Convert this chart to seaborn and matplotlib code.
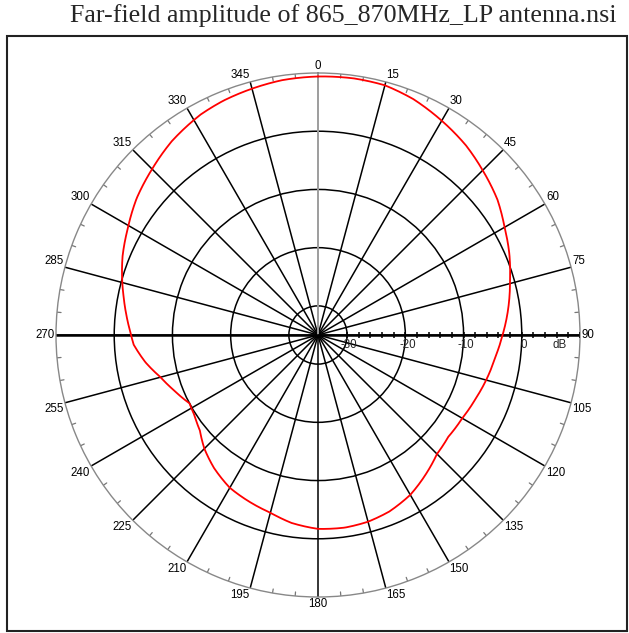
import numpy as np
import pandas as pd
import matplotlib
matplotlib.use("Agg")
import matplotlib.pyplot as plt
import matplotlib.transforms as mtrans
import seaborn as sns
from matplotlib.patches import Rectangle

# far-field amplitude (deg, dB)
angle_deg = [0, 8, 15, 22, 30, 38, 45, 53, 60, 67, 74, 82, 90, 97, 105, 112, 120, 128, 135,
             142, 150, 158, 165, 172, 180, 188, 195, 202, 210, 218, 225, 231, 237, 242, 249,
             255, 261, 267, 271, 276, 281, 285, 292, 299, 307, 315, 323, 332, 338, 345, 352, 360]
gain_db = [9.4, 9.5, 9.4, 8.7, 7.5, 6.3, 5.0, 3.6, 2.0, 0.7, -0.7, -2.0, -3.3, -4.3, -5.1,
           -5.8, -6.4, -6.6, -6.1, -4.8, -3.3, -2.3, -1.8, -1.6, -1.7, -2.4, -3.4, -4.0,
           -4.7, -6.0, -7.4, -8.9, -9.7, -10.0, -8.5, -7.0, -5.0, -3.3, -2.75, -1.9, -1.0,
           -0.2, 1.2, 2.4, 4.0, 5.3, 6.7, 7.9, 8.4, 8.8, 9.2, 9.4]

ring_db = [-30, -20, -10, 0]
ring_labels = ["-30", "-20", "-10", "0"]
spoke_deg = list(range(0, 360, 15))
r_min, r_max = -35, 10

title = "Far-field amplitude of 865_870MHz_LP antenna.nsi"

sns.set_theme(style="white")
plt.rcParams["font.family"] = ["Liberation Sans", "DejaVu Sans"]

df = pd.DataFrame({"theta": np.deg2rad(angle_deg), "gain": gain_db})

fig = plt.figure(figsize=(6.29, 6.33), dpi=100)
fig.patch.set_facecolor("white")

# frame around the plot
fig.patches.append(Rectangle((7 / 629, 1 - 631 / 633), 620 / 629, 595 / 633,
                             transform=fig.transFigure, fill=False,
                             edgecolor="#222222", linewidth=1.5))
fig.text(343 / 629, 1 - 16 / 633, title, ha="center", va="center",
         fontsize=18.7, family=["Liberation Serif", "DejaVu Serif"])

ax = fig.add_axes([56 / 629, 1 - 597 / 633, 524 / 629, 524 / 633], projection="polar")
ax.set_theta_zero_location("N")
ax.set_theta_direction(-1)
ax.set_rlim(r_min, r_max)
ax.set_facecolor("white")

ax.set_thetagrids(spoke_deg, labels=[])
ax.set_rgrids(ring_db, labels=[])
ax.grid(True, color="black", linewidth=1.1)
ax.spines["polar"].set_color("#888888")
ax.spines["polar"].set_linewidth(1.0)
ax.tick_params(axis="both", length=0)

# top half of the 0-180 axis is gray, horizontal axis thicker
ax.plot([0, 0], [r_min, r_max], color="#aaaaaa", lw=1.3, zorder=2)
ax.plot([np.pi / 2, np.pi / 2], [r_min, r_max], color="black", lw=1.8, zorder=2)
ax.plot([3 * np.pi / 2, 3 * np.pi / 2], [r_min, r_max], color="black", lw=1.8, zorder=2)

# minor ticks on the outer circle every 5 deg
for a in range(0, 360, 5):
    if a % 15:
        t = np.deg2rad(a)
        ax.plot([t, t], [r_max, r_max - 0.7], color="#777777", lw=0.9, zorder=2)

# ticks along the dB axis every 2 dB
db_ticks = np.arange(-30, 11, 2)
ax.plot(np.full(len(db_ticks), np.pi / 2), db_ticks, ls="none", marker="|",
        ms=4.5, mew=1.1, color="black", zorder=3)

# angle labels
for a in spoke_deg:
    t = np.deg2rad(a)
    if a == 0:
        ha, va = "center", "bottom"
    elif a == 180:
        ha, va = "center", "top"
    elif a == 90:
        ha, va = "left", "center"
    elif a == 270:
        ha, va = "right", "center"
    else:
        ha = "left" if a < 180 else "right"
        va = "bottom" if (a < 90 or a > 270) else "top"
    ax.text(t, r_max + 0.2, str(a), ha=ha, va=va, fontsize=8.3, color="black")

# radial labels
off = mtrans.ScaledTranslation(2 / 100, -4 / 100, fig.dpi_scale_trans)
for v, s in zip(ring_db, ring_labels):
    ax.text(np.pi / 2, v, s, ha="center", va="top", fontsize=8.3, transform=ax.transData + off)
ax.text(np.pi / 2, 6.2, "dB", ha="center", va="top", fontsize=8.3, transform=ax.transData + off)

sns.lineplot(data=df, x="theta", y="gain", ax=ax, color="red", lw=1.3, sort=False, zorder=4)
ax.lines[-1].get_path()._interpolation_steps = 20
ax.set_xlabel("")
ax.set_ylabel("")

fig.savefig("out.png", dpi=100, facecolor="white")
